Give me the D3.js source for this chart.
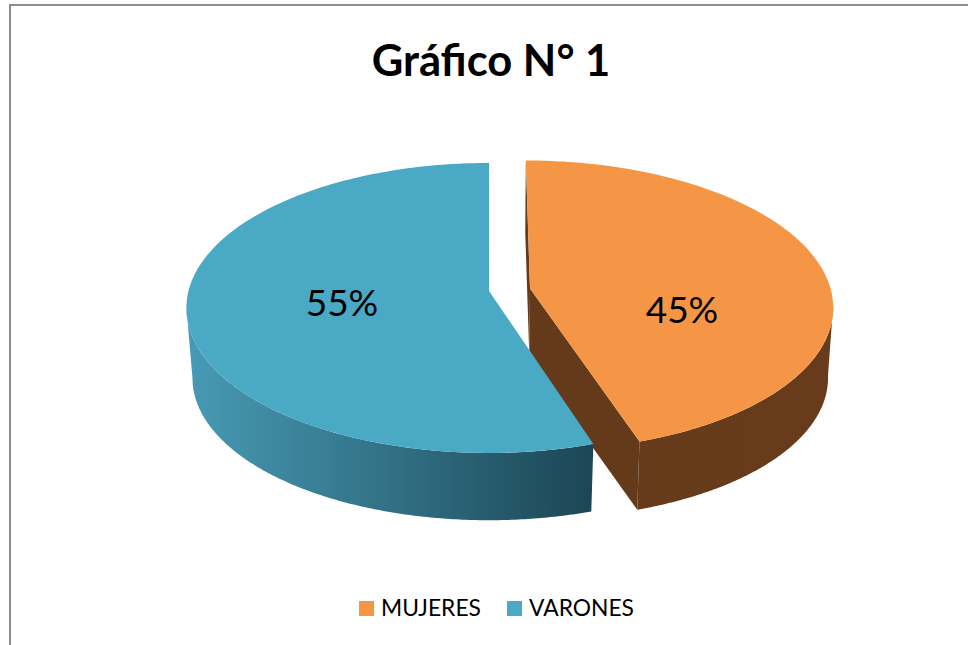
<!DOCTYPE html>
<html>
<head>
<meta charset="utf-8">
<script src="https://cdn.jsdelivr.net/npm/d3@7"></script>
<style>html,body{margin:0;padding:0;background:#fff}svg{display:block}text{font-family:Lato,"Open Sans",sans-serif;fill:#000}</style>
</head>
<body>
<svg id="c" width="968" height="645"></svg>
<script>
const titleText = "Gráfico N° 1";
const categories = ["MUJERES", "VARONES"];
const values = [45, 55];
const labels = ["45%", "55%"];
const topColors = ["#f59646", "#4aa9c5"];
const wallColors = [["#653a1a", "#683c1b"], ["#479ab4", "#1c4655"]];

const svg = d3.select("#c");
const W = 968, H = 645;

// frame: only the top and left edges show in the crop
svg.append("path").attr("d", `M10 ${H}V5H${W}`).attr("fill", "none").attr("stroke", "#8e8e8e").attr("stroke-width", 2);

svg.append("text").attr("x", 491).attr("y", 76).attr("text-anchor", "middle")
  .attr("font-size", 43.5).attr("font-weight", 700).text(titleText);

const pie = d3.pie().sort(null).value(d => d);
const arcs = pie(values);

// projection of the tilted disc
const vx = 490, R = 300.5, Ry = 143, p = 0.117;
const depth = 70.5;
const lowerScale = [0.985, 0.98];
const apex = [{x: 530, y: 288.5}, {x: 489, y: 291}];
const sideAngle = Math.acos(p);   // angle from 3 o'clock-line where the silhouette is widest

function project(i, a, r, lower) {
  const u = Math.sin(a) * r, v = -Math.cos(a) * r;
  const s = 1 / (1 - p * v), q = lower ? lowerScale[i] : 1;
  return [
    vx + (apex[i].x - vx + R * u) * s * q,
    apex[i].y + (lower ? depth : 0) + Ry * v * s * q
  ];
}
function rim(i, a0, a1, lower) {
  return d3.range(0, 181).map(k => project(i, a0 + (a1 - a0) * k / 180, 1, lower));
}
const line = d3.line();
const defs = svg.append("defs");

function drawSlice(i) {
  const d = arcs[i];
  const a0 = d.startAngle, a1 = d.endAngle;
  const g = svg.append("g");
  const grad = defs.append("linearGradient").attr("id", "wall" + i)
    .attr("gradientUnits", "userSpaceOnUse")
    .attr("x1", i ? 190 : 530).attr("x2", i ? 592 : 830).attr("y1", 0).attr("y2", 0);
  grad.append("stop").attr("offset", 0).attr("stop-color", wallColors[i][0]);
  grad.append("stop").attr("offset", 1).attr("stop-color", wallColors[i][1]);

  // outer wall, from the silhouette point round to the cut
  const from = i ? a0 : Math.PI - sideAngle;
  const to = i ? Math.PI + sideAngle : a1;
  const wall = rim(i, from, to, false).concat(rim(i, from, to, true).reverse());
  g.append("path").attr("d", line(wall) + "Z").attr("fill", `url(#wall${i})`);

  // cut faces of mujeres, seen through the gap
  if (i === 0) {
    const c = [apex[i].x, apex[i].y];
    const cL = [vx + (apex[i].x - vx) * lowerScale[i], apex[i].y + depth];
    const e = project(i, a1, 1, false), eL = project(i, a1, 1, true);
    const s = project(i, a0, 1, false), sL = project(i, a0, 1, true);
    g.append("path").attr("d", line([c, e, eL, cL]) + "Z").attr("fill", wallColors[0][0]);
    g.append("path").attr("d", line([s, sL, cL, c]) + "Z").attr("fill", wallColors[0][0]);
  }

  // top face
  const top = [[apex[i].x, apex[i].y]].concat(rim(i, a0, a1, false));
  g.append("path").attr("d", line(top) + "Z").attr("fill", topColors[i]);
}
drawSlice(0);
drawSlice(1);

// data labels
const labelPos = [{x: 682, y: 323}, {x: 342, y: 316}];
labels.forEach((t, i) => {
  svg.append("text").attr("x", labelPos[i].x).attr("y", labelPos[i].y).attr("text-anchor", "middle")
    .attr("font-size", 37).text(t);
});

// legend
const legendX = [359, 507];
categories.forEach((c, i) => {
  svg.append("rect").attr("x", legendX[i]).attr("y", 601).attr("width", 15).attr("height", 15).attr("fill", topColors[i]);
  svg.append("text").attr("x", legendX[i] + 22).attr("y", 616).attr("font-size", 22.8).text(c);
});
</script>
</body>
</html>
